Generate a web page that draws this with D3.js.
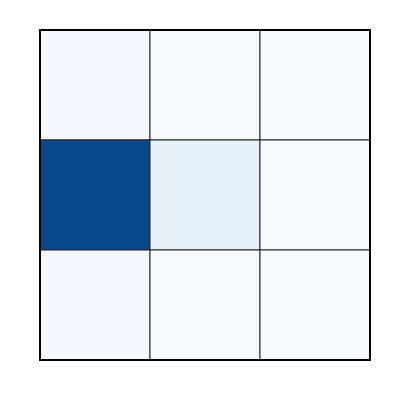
<!DOCTYPE html>
<html><head><meta charset="utf-8">
<script src="https://cdn.jsdelivr.net/npm/d3@7"></script>
<style>body{margin:0;background:#fff}</style>
</head><body>
<svg id="c" width="400" height="400"></svg>
<script>
const rows = ["r0","r1","r2"];
const cols = ["c0","c1","c2"];
const values = [
  [0.02, 0.005, 0.005],
  [0.91, 0.08, 0.005],
  [0.02, 0.005, 0.005]
];
const svg = d3.select("#c");
const x = d3.scaleBand().domain(cols).range([40,370]);
const y = d3.scaleBand().domain(rows).range([30,360]);
const color = d3.scaleSequential(d3.interpolateBlues).domain([0,1]);
const cells = [];
values.forEach((r,i)=>r.forEach((v,j)=>cells.push({row:rows[i],col:cols[j],v})));
svg.selectAll("rect.cell").data(cells).join("rect").attr("class","cell")
  .attr("x",d=>x(d.col)).attr("y",d=>y(d.row))
  .attr("width",x.bandwidth()).attr("height",y.bandwidth())
  .attr("fill",d=>color(d.v)).attr("stroke","#222").attr("stroke-width",1);
svg.append("rect").attr("x",40).attr("y",30).attr("width",330).attr("height",330)
  .attr("fill","none").attr("stroke","#000").attr("stroke-width",2);
</script>
</body></html>
